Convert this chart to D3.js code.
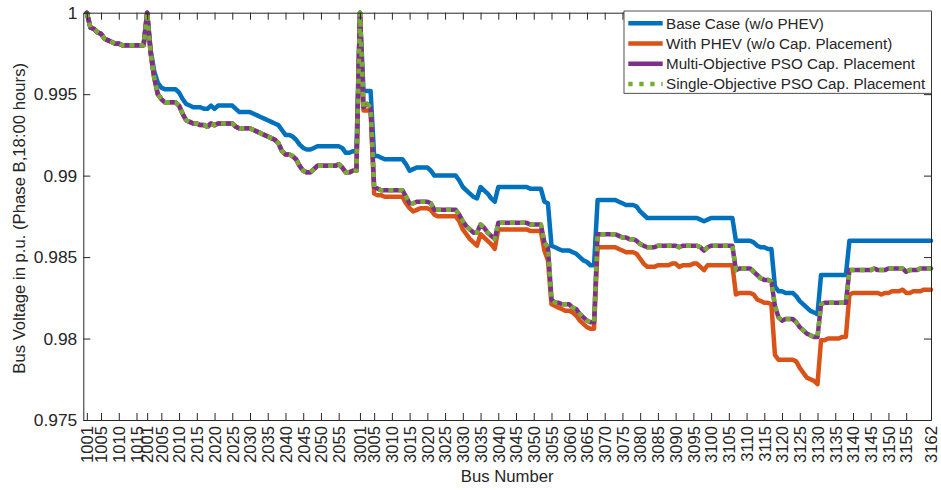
<!DOCTYPE html>
<html>
<head>
<meta charset="utf-8">
<script src="https://cdn.jsdelivr.net/npm/d3@7"></script>
<style>
  html, body { margin: 0; padding: 0; background: #fff; }
  svg text { font-family: "Liberation Sans", Arial, Helvetica, sans-serif; fill: #262626; }
</style>
</head>
<body>
<svg id="chart" width="941" height="490"></svg>
<script>
// Feeder sections: first and last bus number of each lateral
const feederSections = [[1001, 1017], [2001, 2060], [3001, 3162]];

// Bus labels shown on the horizontal axis
const tickLabels = ["1001","1005","1010","1015",
  "2001","2005","2010","2015","2020","2025","2030","2035","2040","2045","2050","2055",
  "3001","3005","3010","3015","3020","3025","3030","3035","3040","3045","3050","3055",
  "3060","3065","3070","3075","3080","3085","3090","3095","3100","3105","3110","3115",
  "3120","3125","3130","3135","3140","3145","3150","3155","3162"];

const yTicks = [0.975, 0.98, 0.985, 0.99, 0.995, 1];

const seriesNames = ["Base Case (w/o PHEV)", "With PHEV (w/o Cap. Placement)",
  "Multi-Objective PSO Cap. Placement", "Single-Objective PSO Cap. Placement"];

// Phase B bus voltages (p.u.) at 18:00, one value per bus in feeder order
const baseCase = [
  1.0000,0.9991,0.9990,0.9988,0.9987,0.9984,0.9983,0.9982,0.9981,0.9981,0.9980,0.9980,0.9980,0.9980,0.9980,0.9980,0.9980,
  1.0000,0.9977,0.9964,0.9957,0.9954,0.9953,0.9953,0.9953,0.9953,0.9951,
  0.9947,0.9944,0.9943,0.9942,0.9942,0.9942,0.9941,0.9941,0.9943,0.9941,
  0.9943,0.9943,0.9943,0.9943,0.9943,0.9941,0.9939,0.9939,0.9939,0.9939,
  0.9938,0.9937,0.9936,0.9935,0.9934,0.9933,0.9932,0.9931,0.9928,0.9925,
  0.9925,0.9924,0.9922,0.9919,0.9917,0.9916,0.9916,0.9917,0.9918,0.9918,
  0.9918,0.9918,0.9918,0.9918,0.9918,0.9917,0.9914,0.9914,0.9915,0.9915,
  1.0000,0.9952,0.9952,0.9952,0.9912,0.9912,0.9911,0.9910,0.9910,0.9910,
  0.9910,0.9910,0.9910,0.9907,0.9903,0.9904,0.9905,0.9905,0.9905,0.9905,
  0.9903,0.9900,0.9900,0.9900,0.9900,0.9900,0.9900,0.9900,0.9897,0.9893,
  0.9891,0.9889,0.9887,0.9886,0.9893,0.9891,0.9889,0.9886,0.9884,0.9893,
  0.9893,0.9893,0.9893,0.9893,0.9893,0.9893,0.9893,0.9893,0.9892,0.9892,
  0.9892,0.9892,0.9884,0.9883,0.9857,0.9856,0.9855,0.9854,0.9854,0.9854,
  0.9853,0.9852,0.9850,0.9848,0.9847,0.9845,0.9845,0.9885,0.9885,0.9885,
  0.9885,0.9885,0.9885,0.9884,0.9883,0.9882,0.9882,0.9882,0.9881,0.9878,
  0.9876,0.9874,0.9874,0.9874,0.9874,0.9874,0.9874,0.9874,0.9874,0.9874,
  0.9874,0.9874,0.9874,0.9874,0.9874,0.9874,0.9873,0.9872,0.9873,0.9874,
  0.9874,0.9874,0.9874,0.9874,0.9874,0.9874,0.9860,0.9860,0.9860,0.9860,
  0.9860,0.9859,0.9857,0.9856,0.9856,0.9855,0.9855,0.9832,0.9829,0.9829,
  0.9828,0.9828,0.9828,0.9826,0.9823,0.9821,0.9819,0.9817,0.9816,0.9815,
  0.9839,0.9839,0.9839,0.9839,0.9839,0.9839,0.9839,0.9839,0.9860,0.9860,
  0.9860,0.9860,0.9860,0.9860,0.9860,0.9860,0.9860,0.9860,0.9860,0.9860,
  0.9860,0.9860,0.9860,0.9860,0.9860,0.9860,0.9860,0.9860,0.9860,0.9860,
  0.9860,0.9860
];

const withPHEV = [
  1.0000,0.9991,0.9990,0.9988,0.9987,0.9984,0.9983,0.9982,0.9981,0.9981,0.9980,0.9980,0.9980,0.9980,0.9980,0.9980,0.9980,
  1.0000,0.9975,0.9960,0.9950,0.9947,0.9945,0.9945,0.9945,0.9945,0.9943,
  0.9938,0.9934,0.9933,0.9932,0.9932,0.9931,0.9931,0.9930,0.9932,0.9931,
  0.9932,0.9932,0.9932,0.9932,0.9932,0.9930,0.9929,0.9929,0.9929,0.9929,
  0.9928,0.9927,0.9926,0.9925,0.9924,0.9923,0.9922,0.9920,0.9915,0.9913,
  0.9913,0.9912,0.9910,0.9906,0.9903,0.9902,0.9902,0.9904,0.9906,0.9906,
  0.9906,0.9906,0.9906,0.9906,0.9907,0.9905,0.9902,0.9902,0.9903,0.9903,
  1.0000,0.9940,0.9940,0.9940,0.9889,0.9888,0.9888,0.9887,0.9887,0.9887,
  0.9887,0.9887,0.9887,0.9883,0.9880,0.9878,0.9879,0.9880,0.9880,0.9880,
  0.9879,0.9876,0.9875,0.9875,0.9875,0.9875,0.9875,0.9875,0.9872,0.9867,
  0.9864,0.9861,0.9859,0.9857,0.9864,0.9862,0.9860,0.9858,0.9855,0.9867,
  0.9867,0.9867,0.9867,0.9867,0.9867,0.9867,0.9867,0.9867,0.9866,0.9866,
  0.9866,0.9866,0.9854,0.9848,0.9821,0.9820,0.9819,0.9818,0.9817,0.9817,
  0.9816,0.9814,0.9811,0.9809,0.9807,0.9806,0.9806,0.9856,0.9856,0.9856,
  0.9856,0.9856,0.9856,0.9855,0.9854,0.9853,0.9853,0.9853,0.9852,0.9849,
  0.9846,0.9844,0.9844,0.9844,0.9845,0.9845,0.9845,0.9845,0.9846,0.9846,
  0.9844,0.9845,0.9845,0.9845,0.9846,0.9846,0.9844,0.9842,0.9845,0.9845,
  0.9845,0.9845,0.9845,0.9845,0.9845,0.9845,0.9827,0.9828,0.9828,0.9828,
  0.9828,0.9827,0.9824,0.9823,0.9822,0.9822,0.9821,0.9790,0.9787,0.9787,
  0.9787,0.9787,0.9787,0.9786,0.9782,0.9779,0.9776,0.9775,0.9774,0.9772,
  0.9799,0.9799,0.9800,0.9800,0.9800,0.9800,0.9801,0.9801,0.9827,0.9828,
  0.9828,0.9828,0.9828,0.9828,0.9828,0.9828,0.9828,0.9827,0.9828,0.9828,
  0.9829,0.9829,0.9829,0.9830,0.9828,0.9828,0.9829,0.9829,0.9829,0.9830,
  0.9830,0.9830
];

const multiObjectivePSO = [
  1.0000,0.9991,0.9990,0.9988,0.9987,0.9984,0.9983,0.9982,0.9981,0.9981,0.9980,0.9980,0.9980,0.9980,0.9980,0.9980,0.9980,
  1.0000,0.9975,0.9960,0.9950,0.9947,0.9945,0.9945,0.9945,0.9945,0.9943,
  0.9938,0.9934,0.9933,0.9932,0.9932,0.9931,0.9931,0.9930,0.9932,0.9931,
  0.9932,0.9932,0.9932,0.9932,0.9932,0.9930,0.9929,0.9929,0.9929,0.9929,
  0.9928,0.9927,0.9926,0.9925,0.9924,0.9923,0.9922,0.9920,0.9915,0.9913,
  0.9913,0.9912,0.9910,0.9906,0.9903,0.9902,0.9902,0.9904,0.9906,0.9906,
  0.9906,0.9906,0.9906,0.9906,0.9907,0.9905,0.9902,0.9902,0.9903,0.9903,
  1.0000,0.9942,0.9944,0.9942,0.9893,0.9892,0.9891,0.9891,0.9891,0.9891,
  0.9891,0.9891,0.9891,0.9887,0.9883,0.9883,0.9884,0.9884,0.9884,0.9884,
  0.9883,0.9879,0.9879,0.9879,0.9879,0.9879,0.9879,0.9879,0.9876,0.9872,
  0.9869,0.9867,0.9865,0.9865,0.9870,0.9868,0.9865,0.9863,0.9861,0.9871,
  0.9871,0.9871,0.9871,0.9871,0.9871,0.9871,0.9871,0.9871,0.9870,0.9870,
  0.9870,0.9870,0.9859,0.9856,0.9824,0.9822,0.9822,0.9821,0.9821,0.9821,
  0.9819,0.9818,0.9815,0.9813,0.9811,0.9810,0.9810,0.9864,0.9864,0.9864,
  0.9864,0.9864,0.9864,0.9863,0.9862,0.9862,0.9861,0.9861,0.9860,0.9858,
  0.9857,0.9856,0.9856,0.9856,0.9857,0.9857,0.9857,0.9857,0.9857,0.9857,
  0.9856,0.9857,0.9857,0.9857,0.9857,0.9857,0.9856,0.9854,0.9856,0.9857,
  0.9857,0.9857,0.9857,0.9857,0.9857,0.9857,0.9842,0.9843,0.9843,0.9843,
  0.9843,0.9841,0.9839,0.9837,0.9836,0.9836,0.9835,0.9820,0.9813,0.9811,
  0.9812,0.9812,0.9812,0.9810,0.9807,0.9805,0.9803,0.9802,0.9801,0.9801,
  0.9821,0.9822,0.9822,0.9822,0.9822,0.9822,0.9822,0.9822,0.9842,0.9842,
  0.9842,0.9842,0.9842,0.9842,0.9842,0.9843,0.9842,0.9842,0.9842,0.9843,
  0.9843,0.9843,0.9843,0.9843,0.9841,0.9842,0.9842,0.9842,0.9843,0.9843,
  0.9843,0.9843
];

const singleObjectivePSO = [
  1.0000,0.9991,0.9990,0.9988,0.9987,0.9984,0.9983,0.9982,0.9981,0.9981,0.9980,0.9980,0.9980,0.9980,0.9980,0.9980,0.9980,
  1.0000,0.9975,0.9960,0.9950,0.9947,0.9945,0.9945,0.9945,0.9945,0.9943,
  0.9938,0.9934,0.9933,0.9932,0.9932,0.9931,0.9931,0.9930,0.9932,0.9931,
  0.9932,0.9932,0.9932,0.9932,0.9932,0.9930,0.9929,0.9929,0.9929,0.9929,
  0.9928,0.9927,0.9926,0.9925,0.9924,0.9923,0.9922,0.9920,0.9915,0.9913,
  0.9913,0.9912,0.9910,0.9906,0.9903,0.9902,0.9902,0.9904,0.9906,0.9906,
  0.9906,0.9906,0.9906,0.9906,0.9907,0.9905,0.9902,0.9902,0.9903,0.9903,
  1.0000,0.9942,0.9944,0.9942,0.9893,0.9892,0.9891,0.9891,0.9891,0.9891,
  0.9891,0.9891,0.9891,0.9887,0.9883,0.9883,0.9884,0.9884,0.9884,0.9884,
  0.9883,0.9879,0.9879,0.9879,0.9879,0.9879,0.9879,0.9879,0.9876,0.9872,
  0.9869,0.9867,0.9865,0.9865,0.9870,0.9868,0.9865,0.9863,0.9861,0.9871,
  0.9871,0.9871,0.9871,0.9871,0.9871,0.9871,0.9871,0.9871,0.9870,0.9870,
  0.9870,0.9870,0.9859,0.9856,0.9824,0.9822,0.9822,0.9821,0.9821,0.9821,
  0.9819,0.9818,0.9815,0.9813,0.9811,0.9810,0.9810,0.9864,0.9864,0.9864,
  0.9864,0.9864,0.9864,0.9863,0.9862,0.9862,0.9861,0.9861,0.9860,0.9858,
  0.9857,0.9856,0.9856,0.9856,0.9857,0.9857,0.9857,0.9857,0.9857,0.9857,
  0.9856,0.9857,0.9857,0.9857,0.9857,0.9857,0.9856,0.9854,0.9856,0.9857,
  0.9857,0.9857,0.9857,0.9857,0.9857,0.9857,0.9842,0.9843,0.9843,0.9843,
  0.9843,0.9841,0.9839,0.9837,0.9836,0.9836,0.9835,0.9820,0.9813,0.9811,
  0.9812,0.9812,0.9812,0.9810,0.9807,0.9805,0.9803,0.9802,0.9801,0.9801,
  0.9821,0.9822,0.9822,0.9822,0.9822,0.9822,0.9822,0.9822,0.9842,0.9842,
  0.9842,0.9842,0.9842,0.9842,0.9842,0.9843,0.9842,0.9842,0.9842,0.9843,
  0.9843,0.9843,0.9843,0.9843,0.9841,0.9842,0.9842,0.9842,0.9843,0.9843,
  0.9843,0.9843
];

// Ordered list of bus numbers along the horizontal axis
const busNumbers = [];
feederSections.forEach(([first, last]) => {
  for (let b = first; b <= last; b++) busNumbers.push(b);
});

const svg = d3.select("#chart");
const plot = { left: 83.3, right: 931, top: 12.7, bottom: 420 };

const x = d3.scaleLinear().domain([0, busNumbers.length]).range([plot.left, plot.right]);
const y = d3.scaleLinear().domain([0.975, 1]).range([plot.bottom, plot.top]);

const tickPositions = tickLabels.map(l => busNumbers.indexOf(+l) + 1);
const labelAt = new Map(tickPositions.map((p, i) => [p, tickLabels[i]]));

const series = [
  { name: seriesNames[0], values: baseCase, color: "#0072BD", dash: null },
  { name: seriesNames[1], values: withPHEV, color: "#D95319", dash: null },
  { name: seriesNames[2], values: multiObjectivePSO, color: "#7E2F8E", dash: null },
  { name: seriesNames[3], values: singleObjectivePSO, color: "#77AC30", dash: "5,5" }
];

const line = d3.line()
  .x((d, i) => x(i + 1))
  .y(d => y(d));

const lines = svg.append("g");
series.forEach(s => {
  lines.append("path")
    .datum(s.values)
    .attr("d", line)
    .attr("fill", "none")
    .attr("stroke", s.color)
    .attr("stroke-width", 4.5)
    .attr("stroke-linejoin", "round")
    .attr("stroke-linecap", s.dash ? "butt" : "round")
    .attr("stroke-dasharray", s.dash);
});

// Axes box with inward ticks on all four sides
const axisStyle = size => g => {
  g.selectAll("path.domain").attr("stroke", "#262626");
  g.selectAll(".tick line").attr("stroke", "#262626");
  g.selectAll("text").attr("font-size", size).attr("fill", "#262626");
};

svg.append("g")
  .attr("transform", `translate(0,${plot.bottom})`)
  .call(d3.axisBottom(x).tickValues(tickPositions).tickFormat(p => labelAt.get(p))
    .tickSizeInner(-7).tickSizeOuter(0))
  .call(axisStyle("16.6px"))
  .call(g => g.selectAll(".tick text")
    .attr("transform", "rotate(-90)")
    .attr("text-anchor", "end")
    .attr("x", -6).attr("y", 0).attr("dy", "0.35em"));

svg.append("g")
  .attr("transform", `translate(0,${plot.top})`)
  .call(d3.axisTop(x).tickValues(tickPositions).tickFormat("")
    .tickSizeInner(-7).tickSizeOuter(0))
  .call(axisStyle("16.6px"));

svg.append("g")
  .attr("transform", `translate(${plot.left},0)`)
  .call(d3.axisLeft(y).tickValues(yTicks).tickFormat(d => String(+d.toFixed(3)))
    .tickSizeInner(-7).tickSizeOuter(0).tickPadding(6))
  .call(axisStyle("17.4px"));

svg.append("g")
  .attr("transform", `translate(${plot.right},0)`)
  .call(d3.axisRight(y).tickValues(yTicks).tickFormat("")
    .tickSizeInner(-7).tickSizeOuter(0))
  .call(axisStyle("16.6px"));

// Axis titles
svg.append("text")
  .attr("x", (plot.left + plot.right) / 2)
  .attr("y", 482)
  .attr("text-anchor", "middle")
  .attr("font-size", "16.7px")
  .text("Bus Number");

svg.append("text")
  .attr("transform", `translate(25,${(plot.top + plot.bottom) / 2 + 2}) rotate(-90)`)
  .attr("text-anchor", "middle")
  .attr("font-size", "16.7px")
  .text("Bus Voltage in p.u. (Phase B,18:00 hours)");

// Legend
const legend = svg.append("g").attr("transform", "translate(624,11)");
legend.append("rect")
  .attr("width", 307.5).attr("height", 82.3)
  .attr("fill", "#fff").attr("stroke", "#262626").attr("stroke-width", 0.8);

series.forEach((s, i) => {
  const row = legend.append("g").attr("transform", `translate(0,${12.3 + i * 20.2})`);
  if (i === 3) {
    row.append("line")
      .attr("x1", 4.3).attr("x2", 38.7)
      .attr("stroke", s.color).attr("stroke-width", 4.5)
      .attr("stroke-dasharray", "4.3,6.7");
  } else {
    row.append("line")
      .attr("x1", 4.3).attr("x2", 38.7)
      .attr("stroke", s.color).attr("stroke-width", 4.5);
  }
  row.append("text")
    .attr("x", 42)
    .attr("dy", "0.35em")
    .attr("font-size", "15.2px")
    .text(s.name);
});
</script>
</body>
</html>
